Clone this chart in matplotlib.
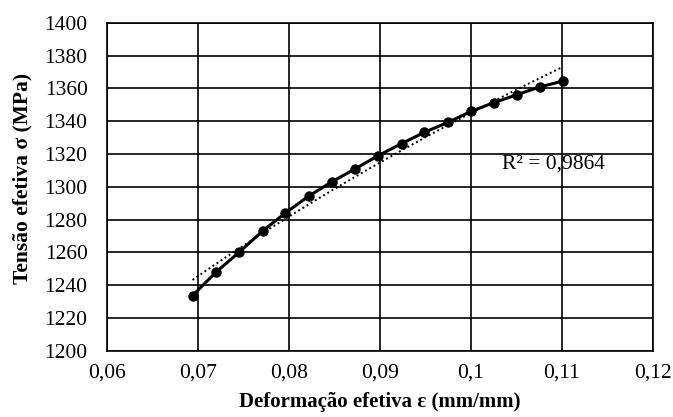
import numpy as np
import matplotlib
matplotlib.use("Agg")
import matplotlib.pyplot as plt
from matplotlib.ticker import FuncFormatter

# effective strain / effective stress
deformacao = [0.0694, 0.0720, 0.0745, 0.0771, 0.0796, 0.0822, 0.0847, 0.0873, 0.0898,
              0.0924, 0.0949, 0.0975, 0.1000, 0.1025, 0.1051, 0.1076, 0.1101]
tensao = [1233.6, 1248.0, 1260.0, 1273.0, 1284.0, 1294.4, 1303.0, 1311.0, 1319.0,
          1326.4, 1333.3, 1339.4, 1346.0, 1351.3, 1356.3, 1361.0, 1364.5]
r2_label = "R² = 0,9864"

plt.rcParams['font.family'] = ['Liberation Serif', 'DejaVu Serif']

fig = plt.figure(figsize=(6.73, 4.17), dpi=100)
ax = fig.add_axes([0.159, 0.159, 0.811, 0.786])

x = np.array(deformacao)
y = np.array(tensao)

# power trendline (like excel): ln y = ln K + n ln x
n, lnk = np.polyfit(np.log(x), np.log(y), 1)
xt = np.linspace(x.min(), x.max(), 100)
ax.plot(xt, np.exp(lnk) * xt ** n, color='black', linestyle=(0, (1, 1.5)), linewidth=1.4, zorder=3)

ax.plot(x, y, color='black', linewidth=2.2, marker='o', markersize=6.5, zorder=4)

ax.text(0.1034, 1314, r2_label, fontsize=15.5, va='center', ha='left', zorder=2)

ax.set_xlim(0.06, 0.12)
ax.set_ylim(1200, 1400)
ax.set_xticks(np.arange(0.06, 0.1201, 0.01))
ax.set_yticks(np.arange(1200, 1401, 20))
ax.xaxis.set_major_formatter(FuncFormatter(lambda v, p: ('%g' % round(v, 3)).replace('.', ',')))
ax.grid(True, color='black', linewidth=1.2)
ax.set_axisbelow(True)
for s in ax.spines.values():
    s.set_linewidth(1.2)
ax.tick_params(length=0, labelsize=15.5)
ax.tick_params(axis='x', pad=9)
ax.tick_params(axis='y', pad=14)

ax.set_xlabel('Deformação efetiva ε (mm/mm)', fontsize=15, fontweight='bold', labelpad=7)
ax.set_ylabel('Tensão efetiva σ (MPa)', fontsize=15.5, fontweight='bold')
ax.yaxis.set_label_coords(-0.137, 0.526)

fig.savefig('out.png', dpi=100)
